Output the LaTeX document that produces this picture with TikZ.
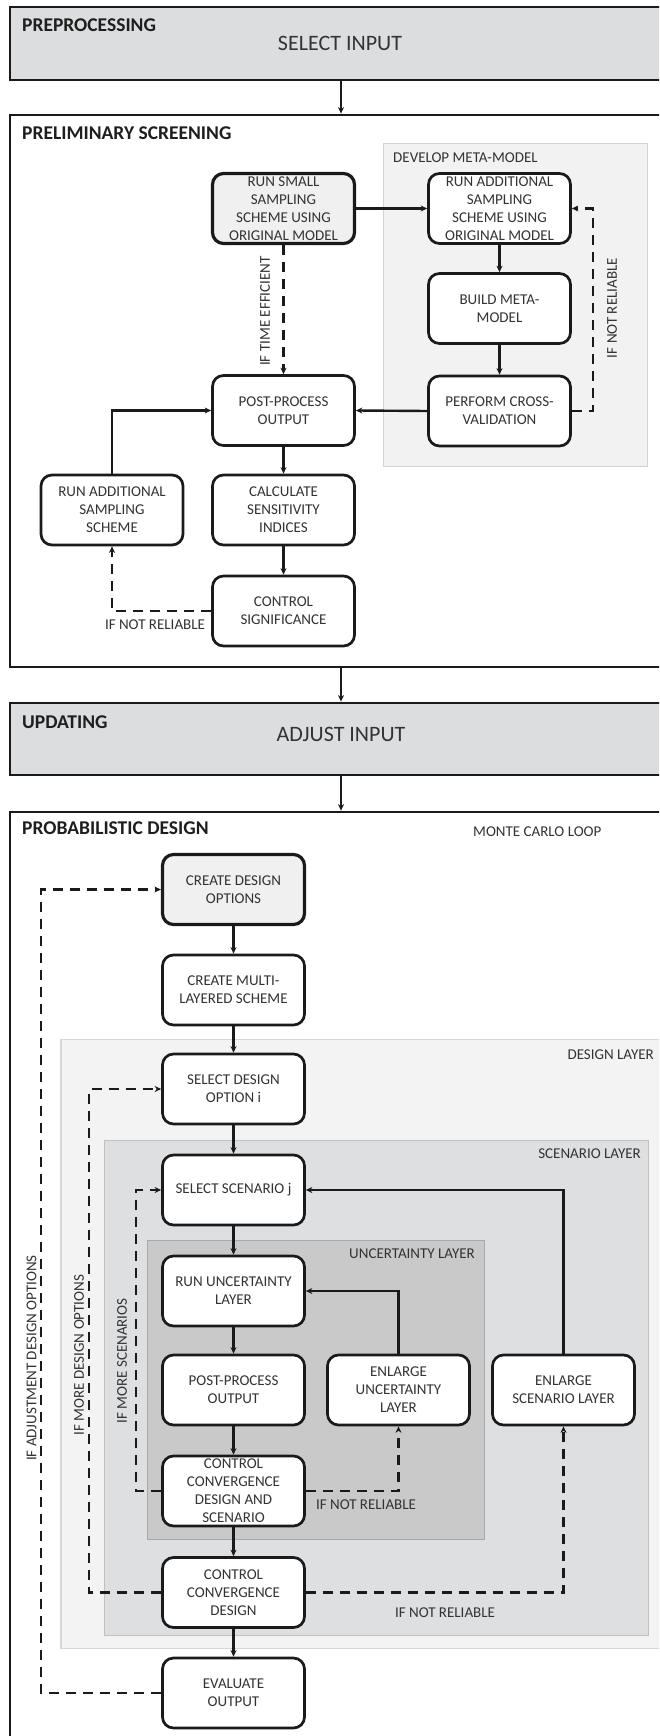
\documentclass[tikz,border=0pt]{standalone}
\usepackage{fontspec}
\setmainfont{Carlito}
\usetikzlibrary{arrows.meta}
\definecolor{ink}{HTML}{1A1A1A}
\definecolor{txt}{HTML}{333333}
\definecolor{hdtxt}{HTML}{1E1E1E}
\definecolor{stagefill}{HTML}{DCDDDF}
\definecolor{hlfill}{HTML}{F0F0F0}
\definecolor{devfill}{HTML}{F2F2F2}
\definecolor{devline}{HTML}{D2D2D2}
\definecolor{desfill}{HTML}{F3F3F3}
\definecolor{desline}{HTML}{D6D6D6}
\definecolor{scnfill}{HTML}{DEDFE0}
\definecolor{scnline}{HTML}{C0C0C0}
\definecolor{uncfill}{HTML}{C9C9CA}
\definecolor{uncline}{HTML}{A9A9A9}
\newcommand\bxfont{\fontsize{15}{18}\selectfont}
\newcommand\hdfont{\fontsize{19.5}{23}\selectfont\bfseries}
\newcommand\bgfont{\fontsize{22}{26}\selectfont}
\tikzset{
  proc/.style={draw=ink, line width=2.7pt, rounded corners=11pt, fill=white,
    minimum width=142pt, minimum height=70pt, align=center, font=\bxfont,
    text=txt, inner sep=0pt},
  hl/.style={proc, fill=hlfill, line width=3.2pt},
  stage/.style={draw=ink, line width=2.8pt, fill=stagefill, minimum width=662pt, inner sep=0pt},
  layer/.style={line width=1.8pt, inner sep=0pt},
  arr/.style={-{Stealth[length=6.5pt,width=6pt]}, line width=2.4pt, draw=ink},
  dsh/.style={arr, dash pattern=on 10pt off 7pt},
  lbl/.style={font=\bxfont, text=txt, inner sep=0pt},
  hdr/.style={font=\hdfont, text=hdtxt, inner sep=0pt, anchor=west},
  big/.style={font=\bgfont, text=txt, inner sep=0pt}
}
\begin{document}
\begin{tikzpicture}[x=1pt,y=-1pt]
\useasboundingbox (0,0) rectangle (659,1736);
\clip (0,0) rectangle (659,1736);
\fill[white] (0,0) rectangle (659,1736);

% stages
\node[stage, minimum height=73pt] (pre) at (341,43.5) {};
\node[stage, fill=white, minimum height=552pt] (prelim) at (341,391) {};
\node[stage, minimum height=72pt] (upd) at (341,739) {};
\node[stage, fill=white, minimum height=960pt] (prob) at (341,1292) {};

% layers
\node[layer, draw=devline, fill=devfill, minimum width=264pt, minimum height=323pt] (dev) at (515.5,305) {};
\node[layer, draw=desline, fill=desfill, minimum width=611pt, minimum height=609pt] (des) at (366.5,1344) {};
\node[layer, draw=scnline, fill=scnfill, minimum width=544pt, minimum height=495pt] (scn) at (376.5,1388) {};
\node[layer, draw=uncline, fill=uncfill, minimum width=337pt, minimum height=299pt] (unc) at (316,1390) {};

% stage texts
\node[hdr] (preT) at (22,25) {PREPROCESSING};
\node[big] (selin) at (340,43) {SELECT INPUT};
\node[hdr] (prelimT) at (22,133) {PRELIMINARY SCREENING};
\node[hdr] (updT) at (22,722) {UPDATING};
\node[big] (adj) at (341,734) {ADJUST INPUT};
\node[hdr] (probT) at (22,828) {PROBABILISTIC DESIGN};

% layer labels
\node[lbl, anchor=west] (devT) at (393,158) {DEVELOP META-MODEL};
\node[lbl, anchor=west] (mcl) at (473,832) {MONTE CARLO LOOP};
\node[lbl, anchor=east] (desT) at (654,1055) {DESIGN LAYER};
\node[lbl, anchor=east] (scnT) at (641,1154) {SCENARIO LAYER};
\node[lbl, anchor=east] (uncT) at (475,1254) {UNCERTAINTY LAYER};

% preliminary screening processes
\node[hl] (small) at (283.5,208.5) {RUN SMALL\\SAMPLING\\SCHEME USING\\ORIGINAL MODEL};
\node[proc] (radd) at (499.5,208.5) {RUN ADDITIONAL\\SAMPLING\\SCHEME USING\\ORIGINAL MODEL};
\node[proc] (build) at (499.5,308.5) {BUILD META-\\MODEL};
\node[proc] (cross) at (499.5,411) {PERFORM CROSS-\\VALIDATION};
\node[proc] (post1) at (283.5,410.5) {POST-PROCESS\\OUTPUT};
\node[proc] (radd2) at (112,510) {RUN ADDITIONAL\\SAMPLING\\SCHEME};
\node[proc] (calc) at (283.5,510) {CALCULATE\\SENSITIVITY\\INDICES};
\node[proc] (csig) at (283.5,611) {CONTROL\\SIGNIFICANCE};

% probabilistic design processes
\node[hl] (cdo) at (233.5,889.5) {CREATE DESIGN\\OPTIONS};
\node[proc] (cml) at (233.5,990) {CREATE MULTI-\\LAYERED SCHEME};
\node[proc] (sdo) at (233.5,1089) {SELECT DESIGN\\OPTION i};
\node[proc] (ssj) at (233.5,1190) {SELECT SCENARIO j};
\node[proc] (rul) at (233.5,1291) {RUN UNCERTAINTY\\LAYER};
\node[proc] (ppo) at (233.5,1390) {POST-PROCESS\\OUTPUT};
\node[proc] (eul) at (398.5,1390) {ENLARGE\\UNCERTAINTY\\LAYER};
\node[proc] (esl) at (563.5,1390) {ENLARGE\\SCENARIO LAYER};
\node[proc] (ccds) at (233.5,1491) {CONTROL\\CONVERGENCE\\DESIGN AND\\SCENARIO};
\node[proc] (ccd) at (233.5,1592.5) {CONTROL\\CONVERGENCE\\DESIGN};
\node[proc] (eval) at (233.5,1693) {EVALUATE\\OUTPUT};

% stage connectors
\draw[arr] (pre.south) -- (prelim.north);
\draw[arr] (prelim.south) -- (upd.north);
\draw[arr] (upd.south) -- (prob.north);

% preliminary connectors
\draw[arr] (small.east) -- (radd.west);
\draw[arr] (radd.south) -- (build.north);
\draw[arr] (build.south) -- (cross.north);
\draw[arr] (cross.west) -- (post1.east);
\draw[dsh] (small.south) -- (post1.north);
\draw[dsh] (cross.east) -- ++(21,0) |- (radd.east);
\draw[arr] (radd2.north) |- (post1.west);
\draw[arr] (post1.south) -- (calc.north);
\draw[arr] (calc.south) -- (csig.north);
\draw[dsh] (csig.west) -| (radd2.south);

% probabilistic connectors
\draw[arr] (cdo.south) -- (cml.north);
\draw[arr] (cml.south) -- (sdo.north);
\draw[arr] (sdo.south) -- (ssj.north);
\draw[arr] (ssj.south) -- (rul.north);
\draw[arr] (rul.south) -- (ppo.north);
\draw[arr] (ppo.south) -- (ccds.north);
\draw[arr] (ccds.south) -- (ccd.north);
\draw[arr] (ccd.south) -- (eval.north);
\draw[arr] (eul.north) |- (rul.east);
\draw[arr] (esl.north) |- (ssj.east);
\draw[dsh] (ccds.east) -| (eul.south);
\draw[dsh] (ccds.west) -- ++(-25,0) |- (ssj.west);
\draw[dsh] (ccd.east) -| (esl.south);
\draw[dsh] (ccd.west) -- ++(-72,0) |- (sdo.west);
\draw[dsh] (eval.west) -- ++(-120,0) |- (cdo.west);

% connector labels
\node[lbl, rotate=90] (lte) at (265,311) {IF TIME EFFICIENT};
\node[lbl, rotate=90] (lnr1) at (612,308) {IF NOT RELIABLE};
\node[lbl] (lnr2) at (155,625) {IF NOT RELIABLE};
\node[lbl, rotate=90] (lado) at (31.5,1358) {IF ADJUSTMENT DESIGN OPTIONS};
\node[lbl, rotate=90] (lmdo) at (79,1355) {IF MORE DESIGN OPTIONS};
\node[lbl, rotate=90] (lms) at (122,1361) {IF MORE SCENARIOS};
\node[lbl] (lnr3) at (366,1505) {IF NOT RELIABLE};
\node[lbl] (lnr4) at (445,1613) {IF NOT RELIABLE};
\end{tikzpicture}
\end{document}
